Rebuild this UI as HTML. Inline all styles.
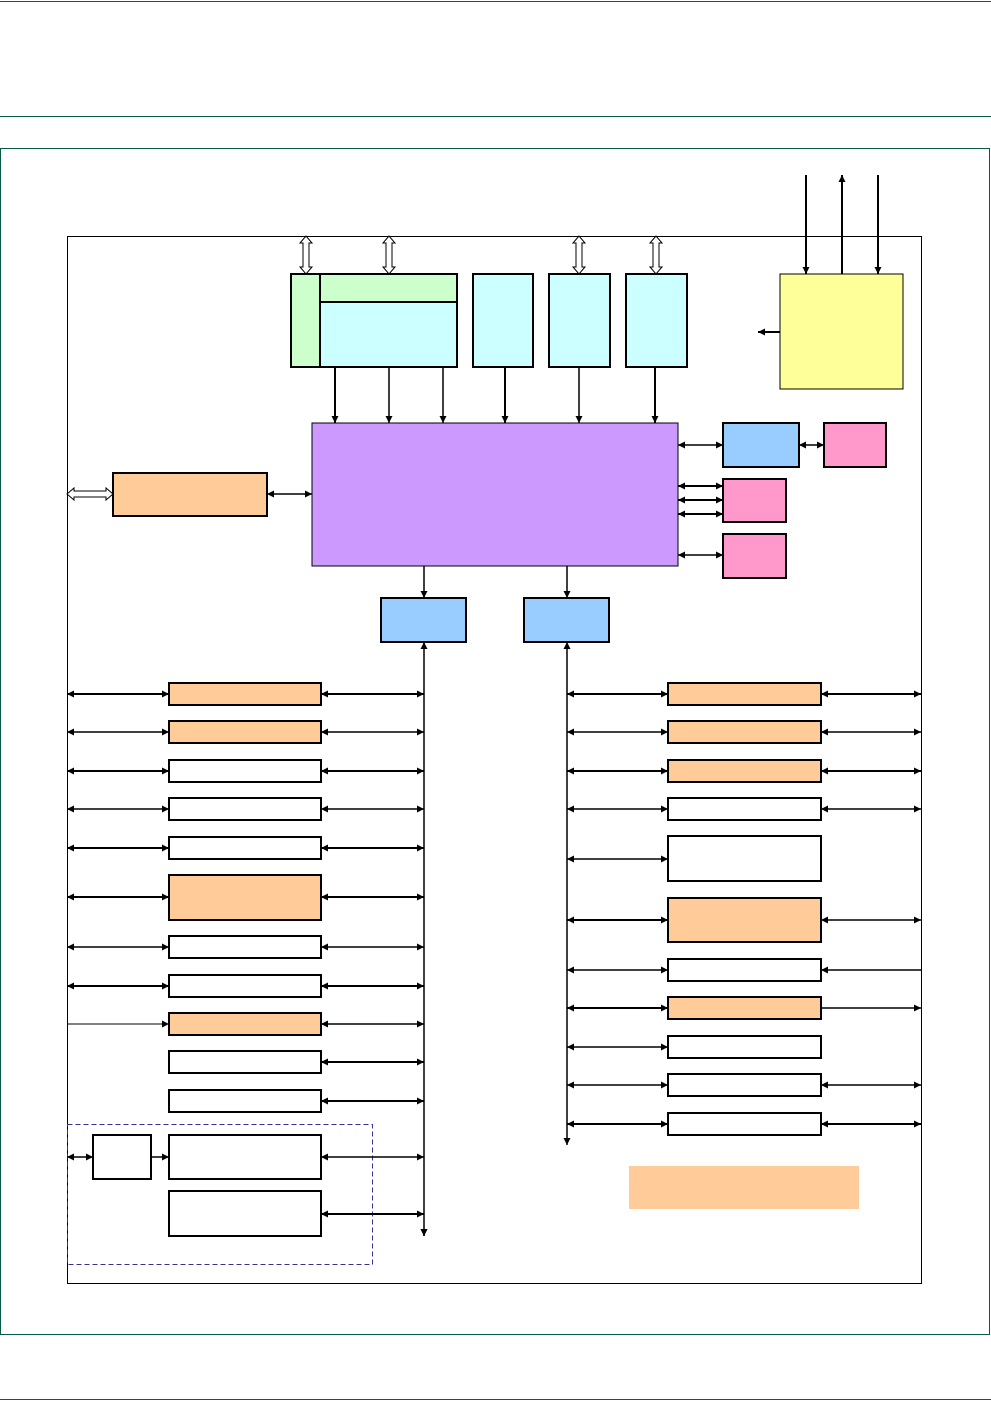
<!DOCTYPE html>
<html><head><meta charset="utf-8"><style>body{margin:0;background:#fff}svg{display:block}</style></head><body>
<svg width="991" height="1401" viewBox="0 0 991 1401" xmlns="http://www.w3.org/2000/svg">
<defs>
<marker id="a" viewBox="0 0 10 10" refX="10" refY="5" markerWidth="7" markerHeight="7" markerUnits="userSpaceOnUse" orient="auto-start-reverse"><path d="M0,0L10,5L0,10z" fill="#000"/></marker>
</defs>
<g stroke="#0a5a4a" fill="none">
<line x1="0" y1="1.5" x2="991" y2="1.5"/>
<line x1="0" y1="116.5" x2="991" y2="116.5"/>
<rect x="0.5" y="148.5" width="989" height="1186"/>
<line x1="0" y1="1399.5" x2="991" y2="1399.5"/>
</g>
<rect x="67.5" y="236.5" width="854" height="1047" fill="none" stroke="#000"/>
<g stroke="#000" stroke-width="2">
<rect x="291" y="274" width="166" height="93" fill="#ccffcc"/>
<rect x="320" y="302" width="137" height="65" fill="#ccffff"/>
<line x1="320" y1="274" x2="320" y2="302"/>
<rect x="473" y="274" width="60" height="93" fill="#ccffff"/>
<rect x="549" y="274" width="61" height="93" fill="#ccffff"/>
<rect x="626" y="274" width="61" height="93" fill="#ccffff"/>
<rect x="780" y="274" width="123" height="115" fill="#ffff99" stroke-width="1"/>
<rect x="312" y="423" width="366" height="143" fill="#cc99ff" stroke-width="1"/>
<rect x="723" y="423" width="76" height="44" fill="#99ccff"/>
<rect x="824" y="423" width="62" height="44" fill="#ff99cc"/>
<rect x="723" y="479" width="63" height="43" fill="#ff99cc"/>
<rect x="723" y="534" width="63" height="44" fill="#ff99cc"/>
<rect x="113" y="473" width="154" height="43" fill="#ffcc99"/>
<rect x="381" y="598" width="85" height="44" fill="#99ccff"/>
<rect x="524" y="598" width="85" height="44" fill="#99ccff"/>
</g>
<g fill="#fff" stroke="#000" stroke-width="1">
<path d="M306,236l-6,7h3v24h-3l6,7l6-7h-3v-24h3z"/>
<path d="M389,236l-6,7h3v24h-3l6,7l6-7h-3v-24h3z"/>
<path d="M579,236l-6,7h3v24h-3l6,7l6-7h-3v-24h3z"/>
<path d="M656,236l-6,7h3v24h-3l6,7l6-7h-3v-24h3z"/>
<path d="M67,494l7-6v3h32v-3l7,6l-7,6v-3h-32v3z"/>
</g>
<g stroke="#000" stroke-width="1.5" fill="none" marker-end="url(#a)">
<line x1="335" y1="367" x2="335" y2="423" stroke-width="2"/>
<line x1="389" y1="367" x2="389" y2="423"/>
<line x1="443" y1="367" x2="443" y2="423"/>
<line x1="505" y1="367" x2="505" y2="423" stroke-width="2"/>
<line x1="579" y1="367" x2="579" y2="423"/>
<line x1="655" y1="367" x2="655" y2="423" stroke-width="2"/>
<line x1="806" y1="175" x2="806" y2="274" stroke-width="2"/>
<line x1="842" y1="274" x2="842" y2="175" stroke-width="2"/>
<line x1="878" y1="175" x2="878" y2="274" stroke-width="2"/>
<line x1="780" y1="332" x2="758" y2="332" stroke-width="2"/>
<line x1="424" y1="566" x2="424" y2="598"/>
<line x1="567" y1="566" x2="567" y2="598"/>
</g>
<g stroke="#000" stroke-width="1.5" fill="none" marker-start="url(#a)" marker-end="url(#a)">
<line x1="678" y1="445" x2="723" y2="445"/>
<line x1="799" y1="445" x2="824" y2="445"/>
<line x1="678" y1="486" x2="723" y2="486" stroke-width="2"/>
<line x1="678" y1="500" x2="723" y2="500" stroke-width="2"/>
<line x1="678" y1="514" x2="723" y2="514" stroke-width="2"/>
<line x1="678" y1="555" x2="723" y2="555"/>
<line x1="267" y1="494" x2="312" y2="494"/>
<line x1="424" y1="642" x2="424" y2="1236"/>
<line x1="567" y1="642" x2="567" y2="1145"/>
</g>
<g stroke="#000" stroke-width="2" fill="#fff">
<rect x="169" y="683" width="152" height="22" fill="#ffcc99"/>
<rect x="169" y="721" width="152" height="22" fill="#ffcc99"/>
<rect x="169" y="760" width="152" height="22"/>
<rect x="169" y="798" width="152" height="22"/>
<rect x="169" y="837" width="152" height="22"/>
<rect x="169" y="875" width="152" height="45" fill="#ffcc99"/>
<rect x="169" y="936" width="152" height="22"/>
<rect x="169" y="975" width="152" height="22"/>
<rect x="169" y="1013" width="152" height="22" fill="#ffcc99"/>
<rect x="169" y="1051" width="152" height="22"/>
<rect x="169" y="1090" width="152" height="22"/>
<rect x="93" y="1135" width="58" height="44"/>
<rect x="169" y="1135" width="152" height="44"/>
<rect x="169" y="1191" width="152" height="45"/>
<rect x="668" y="683" width="153" height="22" fill="#ffcc99"/>
<rect x="668" y="721" width="153" height="22" fill="#ffcc99"/>
<rect x="668" y="760" width="153" height="22" fill="#ffcc99"/>
<rect x="668" y="798" width="153" height="22"/>
<rect x="668" y="836" width="153" height="45"/>
<rect x="668" y="898" width="153" height="44" fill="#ffcc99"/>
<rect x="668" y="959" width="153" height="22"/>
<rect x="668" y="997" width="153" height="22" fill="#ffcc99"/>
<rect x="668" y="1036" width="153" height="22"/>
<rect x="668" y="1074" width="153" height="22"/>
<rect x="668" y="1113" width="153" height="22"/>
</g>
<rect x="67.5" y="1124.5" width="305" height="140" fill="none" stroke="#333399" stroke-dasharray="5,3"/>
<rect x="629" y="1166" width="230" height="43" fill="#ffcc99"/>
<g stroke="#000" stroke-width="1.5" fill="none" marker-start="url(#a)" marker-end="url(#a)">
<line x1="67" y1="694" x2="169" y2="694" stroke-width="2"/><line x1="321" y1="694" x2="424" y2="694" stroke-width="2"/>
<line x1="67" y1="732" x2="169" y2="732"/><line x1="321" y1="732" x2="424" y2="732"/>
<line x1="67" y1="771" x2="169" y2="771" stroke-width="2"/><line x1="321" y1="771" x2="424" y2="771" stroke-width="2"/>
<line x1="67" y1="809" x2="169" y2="809"/><line x1="321" y1="809" x2="424" y2="809"/>
<line x1="67" y1="848" x2="169" y2="848" stroke-width="2"/><line x1="321" y1="848" x2="424" y2="848" stroke-width="2"/>
<line x1="67" y1="897" x2="169" y2="897" stroke-width="2"/><line x1="321" y1="897" x2="424" y2="897" stroke-width="2"/>
<line x1="67" y1="947" x2="169" y2="947"/><line x1="321" y1="947" x2="424" y2="947"/>
<line x1="67" y1="986" x2="169" y2="986" stroke-width="2"/><line x1="321" y1="986" x2="424" y2="986" stroke-width="2"/>
<line x1="321" y1="1024" x2="424" y2="1024"/>
<line x1="321" y1="1062" x2="424" y2="1062" stroke-width="2"/>
<line x1="321" y1="1101" x2="424" y2="1101" stroke-width="2"/>
<line x1="67" y1="1157" x2="93" y2="1157"/>
<line x1="321" y1="1157" x2="424" y2="1157"/>
<line x1="321" y1="1214" x2="424" y2="1214" stroke-width="2"/>
<line x1="567" y1="694" x2="668" y2="694" stroke-width="2"/><line x1="821" y1="694" x2="921" y2="694" stroke-width="2"/>
<line x1="567" y1="732" x2="668" y2="732"/><line x1="821" y1="732" x2="921" y2="732"/>
<line x1="567" y1="771" x2="668" y2="771" stroke-width="2"/><line x1="821" y1="771" x2="921" y2="771" stroke-width="2"/>
<line x1="567" y1="809" x2="668" y2="809"/><line x1="821" y1="809" x2="921" y2="809"/>
<line x1="567" y1="859" x2="668" y2="859"/>
<line x1="567" y1="920" x2="668" y2="920" stroke-width="2"/><line x1="821" y1="920" x2="921" y2="920"/>
<line x1="567" y1="970" x2="668" y2="970"/>
<line x1="567" y1="1008" x2="668" y2="1008" stroke-width="2"/>
<line x1="567" y1="1047" x2="668" y2="1047"/>
<line x1="567" y1="1085" x2="668" y2="1085"/><line x1="821" y1="1085" x2="921" y2="1085"/>
<line x1="567" y1="1124" x2="668" y2="1124" stroke-width="2"/><line x1="821" y1="1124" x2="921" y2="1124" stroke-width="2"/>
</g>
<g stroke="#000" stroke-width="1.5" fill="none" marker-end="url(#a)">
<line x1="67" y1="1024" x2="169" y2="1024" stroke-width="1"/>
<line x1="151" y1="1157" x2="169" y2="1157"/>
<line x1="921" y1="970" x2="821" y2="970"/>
<line x1="821" y1="1008" x2="921" y2="1008"/>
<line x1="424" y1="1230" x2="424" y2="1236"/>
</g>
</svg>
</body></html>
